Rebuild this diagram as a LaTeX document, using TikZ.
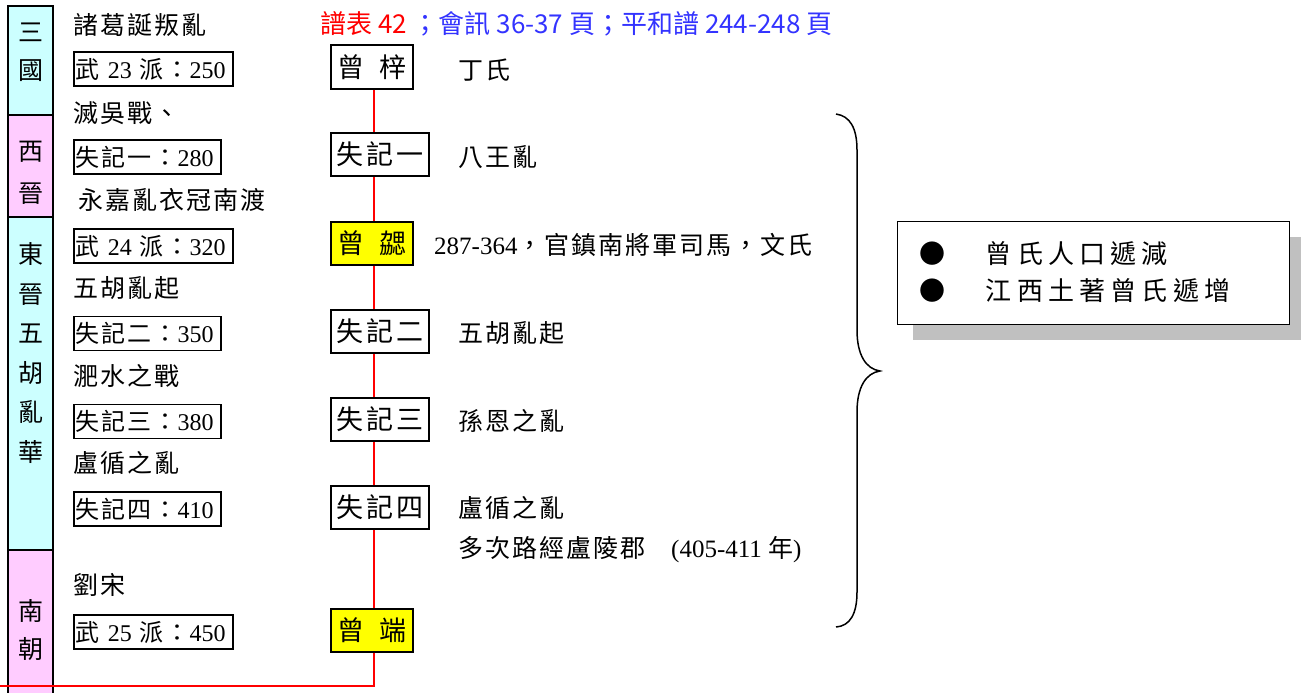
\documentclass[tikz,border=0pt]{standalone}
\usepackage{fontspec}
\setmainfont{Liberation Serif}
\newfontfamily\cjk[LetterSpace=8]{Noto Sans CJK TC}
\newfontfamily\cjkgap[LetterSpace=12]{Noto Sans CJK TC}
\newfontfamily\cjkwide[LetterSpace=20]{Noto Sans CJK TC}
\newfontfamily\cjksans{Noto Sans CJK TC}
\newcommand\zh[1]{{\cjk #1}}
\usetikzlibrary{shadows}

\definecolor{eracyan}{HTML}{CCFFFF}
\definecolor{erapink}{HTML}{FFCCFF}
\definecolor{notegray}{HTML}{C0C0C0}
\definecolor{refblue}{HTML}{3333FF}
\definecolor{hiyellow}{HTML}{FFFF00}

\tikzset{
  every node/.style={font=\fontsize{25}{28}\selectfont, inner sep=0pt},
  erabar/.style={draw, line width=1.5pt},
  era/.style={font=\cjksans\fontsize{25}{#1}\selectfont, align=center},
  event/.style={anchor=west, font=\cjk\fontsize{25}{28}\selectfont},
  wubox/.style={draw, line width=1.5pt, anchor=west, minimum height=34pt,
    text width=155pt, inner xsep=2pt, align=left, font=\fontsize{24}{28}\selectfont},
  jibox/.style={wubox, text width=143pt},
  person/.style={draw, line width=2pt, fill=white, anchor=west,
    minimum height=43pt, minimum width=#1, font=\cjkgap\fontsize{27}{30}\selectfont},
  lineage/.style={draw=red, line width=1.5pt},
  brace/.style={line width=1.5pt},
  note/.style={draw, line width=1pt, fill=white, minimum width=392pt,
    minimum height=103pt, text width=348pt, inner xsep=22pt, align=left,
    font=\cjkwide\fontsize{26}{37}\selectfont,
    drop shadow={shadow xshift=16pt, shadow yshift=-16pt, fill=notegray, opacity=1}}
}

\begin{document}
\begin{tikzpicture}[x=1pt,y=-1pt]
\useasboundingbox (0,0) rectangle (1301,693);

% period bar
\draw[erabar, fill=eracyan] (8,6) rectangle (53,115);
\draw[erabar, fill=erapink] (8,115) rectangle (53,217);
\draw[erabar, fill=eracyan] (8,217) rectangle (53,550);
\draw[erabar, fill=erapink] (8,550) rectangle (53,696);
\node[era=38] (sanguo) at (31,52) {三\\國};
\node[era=42] (xijin) at (31,173) {西\\晉};
\node[era=39.6] (dongjin) at (31,353) {東\\晉\\五\\胡\\亂\\華};
\node[era=38] (nanchao) at (31,630) {南\\朝};

% sources
\node[anchor=west, font=\cjksans\fontsize{26}{28}\selectfont] (title) at (320,24)
  {\textcolor{red}{譜表 42}\hspace{6pt}\textcolor{refblue}{；會訊 36-37 頁；平和譜 244-248 頁}};

% left column
\node[event] (zhuge) at (73,25) {諸葛誕叛亂};
\node[wubox] (wu23) at (73,69) {\zh{武} 23 \zh{派：}250};
\node[event] (miewu) at (73,113) {滅吳戰、};
\node[jibox] (jione) at (73,157) {\zh{失記一：}280};
\node[event] (yongjia) at (78,200) {永嘉亂衣冠南渡};
\node[wubox] (wu24) at (73,246) {\zh{武} 24 \zh{派：}320};
\node[event] (wuhu) at (73,288) {五胡亂起};
\node[jibox] (jitwo) at (73,333.5) {\zh{失記二：}350};
\node[event] (feishui) at (73,376) {淝水之戰};
\node[jibox] (jithree) at (73,421.5) {\zh{失記三：}380};
\node[event] (luxun) at (73,463) {盧循之亂};
\node[jibox] (jifour) at (73,509) {\zh{失記四：}410};
\node[event] (liusong) at (73,585) {劉宋};
\node[wubox] (wu25) at (73,632) {\zh{武} 25 \zh{派：}450};

% lineage
\node[person=82pt] (zi) at (330,67) {曾\hspace{16pt}梓};
\node[person=98pt] (sjone) at (330,154.5) {失記一};
\node[person=82pt, fill=hiyellow] (xie) at (330,243) {曾\hspace{16pt}勰};
\node[person=98pt] (sjtwo) at (330,331.5) {失記二};
\node[person=98pt] (sjthree) at (330,419.5) {失記三};
\node[person=98pt] (sjfour) at (330,507) {失記四};
\node[person=82pt, fill=hiyellow] (duan) at (330,630) {曾\hspace{16pt}端};

\coordinate (spine) at (374,0);
\coordinate (exit) at (0,686);
\foreach \a/\b in {zi/sjone, sjone/xie, xie/sjtwo, sjtwo/sjthree, sjthree/sjfour, sjfour/duan}
  \draw[lineage] (spine |- \a.south) -- (spine |- \b.north);
\draw[lineage] (spine |- duan.south) |- (exit);

% notes
\node[event] (dingshi) at (458,70) {丁氏};
\node[event] (bawang) at (458,157) {八王亂};
\node[anchor=west] (xieinfo) at (434,245) {287-364\zh{，官鎮南將軍司馬，文氏}};
\node[event] (wuhuqi) at (458,333) {五胡亂起};
\node[event] (sunen) at (458,421) {孫恩之亂};
\node[event] (luxunluan) at (458,508) {盧循之亂};
\node[anchor=west] (luling) at (458,550) {\zh{多次路經盧陵郡}\hspace{26pt}(405-411 \zh{年})};

% brace and summary
\draw[brace] (836,114) .. controls (850,116) and (857,128) .. (857,150) -- (857,330)
  .. controls (857,355) and (866,369) .. (880,371)
  .. controls (866,373) and (857,387) .. (857,412) -- (857,592)
  .. controls (857,614) and (850,626) .. (836,627);
\node[note] (summary) at (1093,272.5)
  {{\cjksans ●}\hspace{41pt}曾氏人口遞減\\{\cjksans ●}\hspace{41pt}江西土著曾氏遞增};
\end{tikzpicture}
\end{document}
